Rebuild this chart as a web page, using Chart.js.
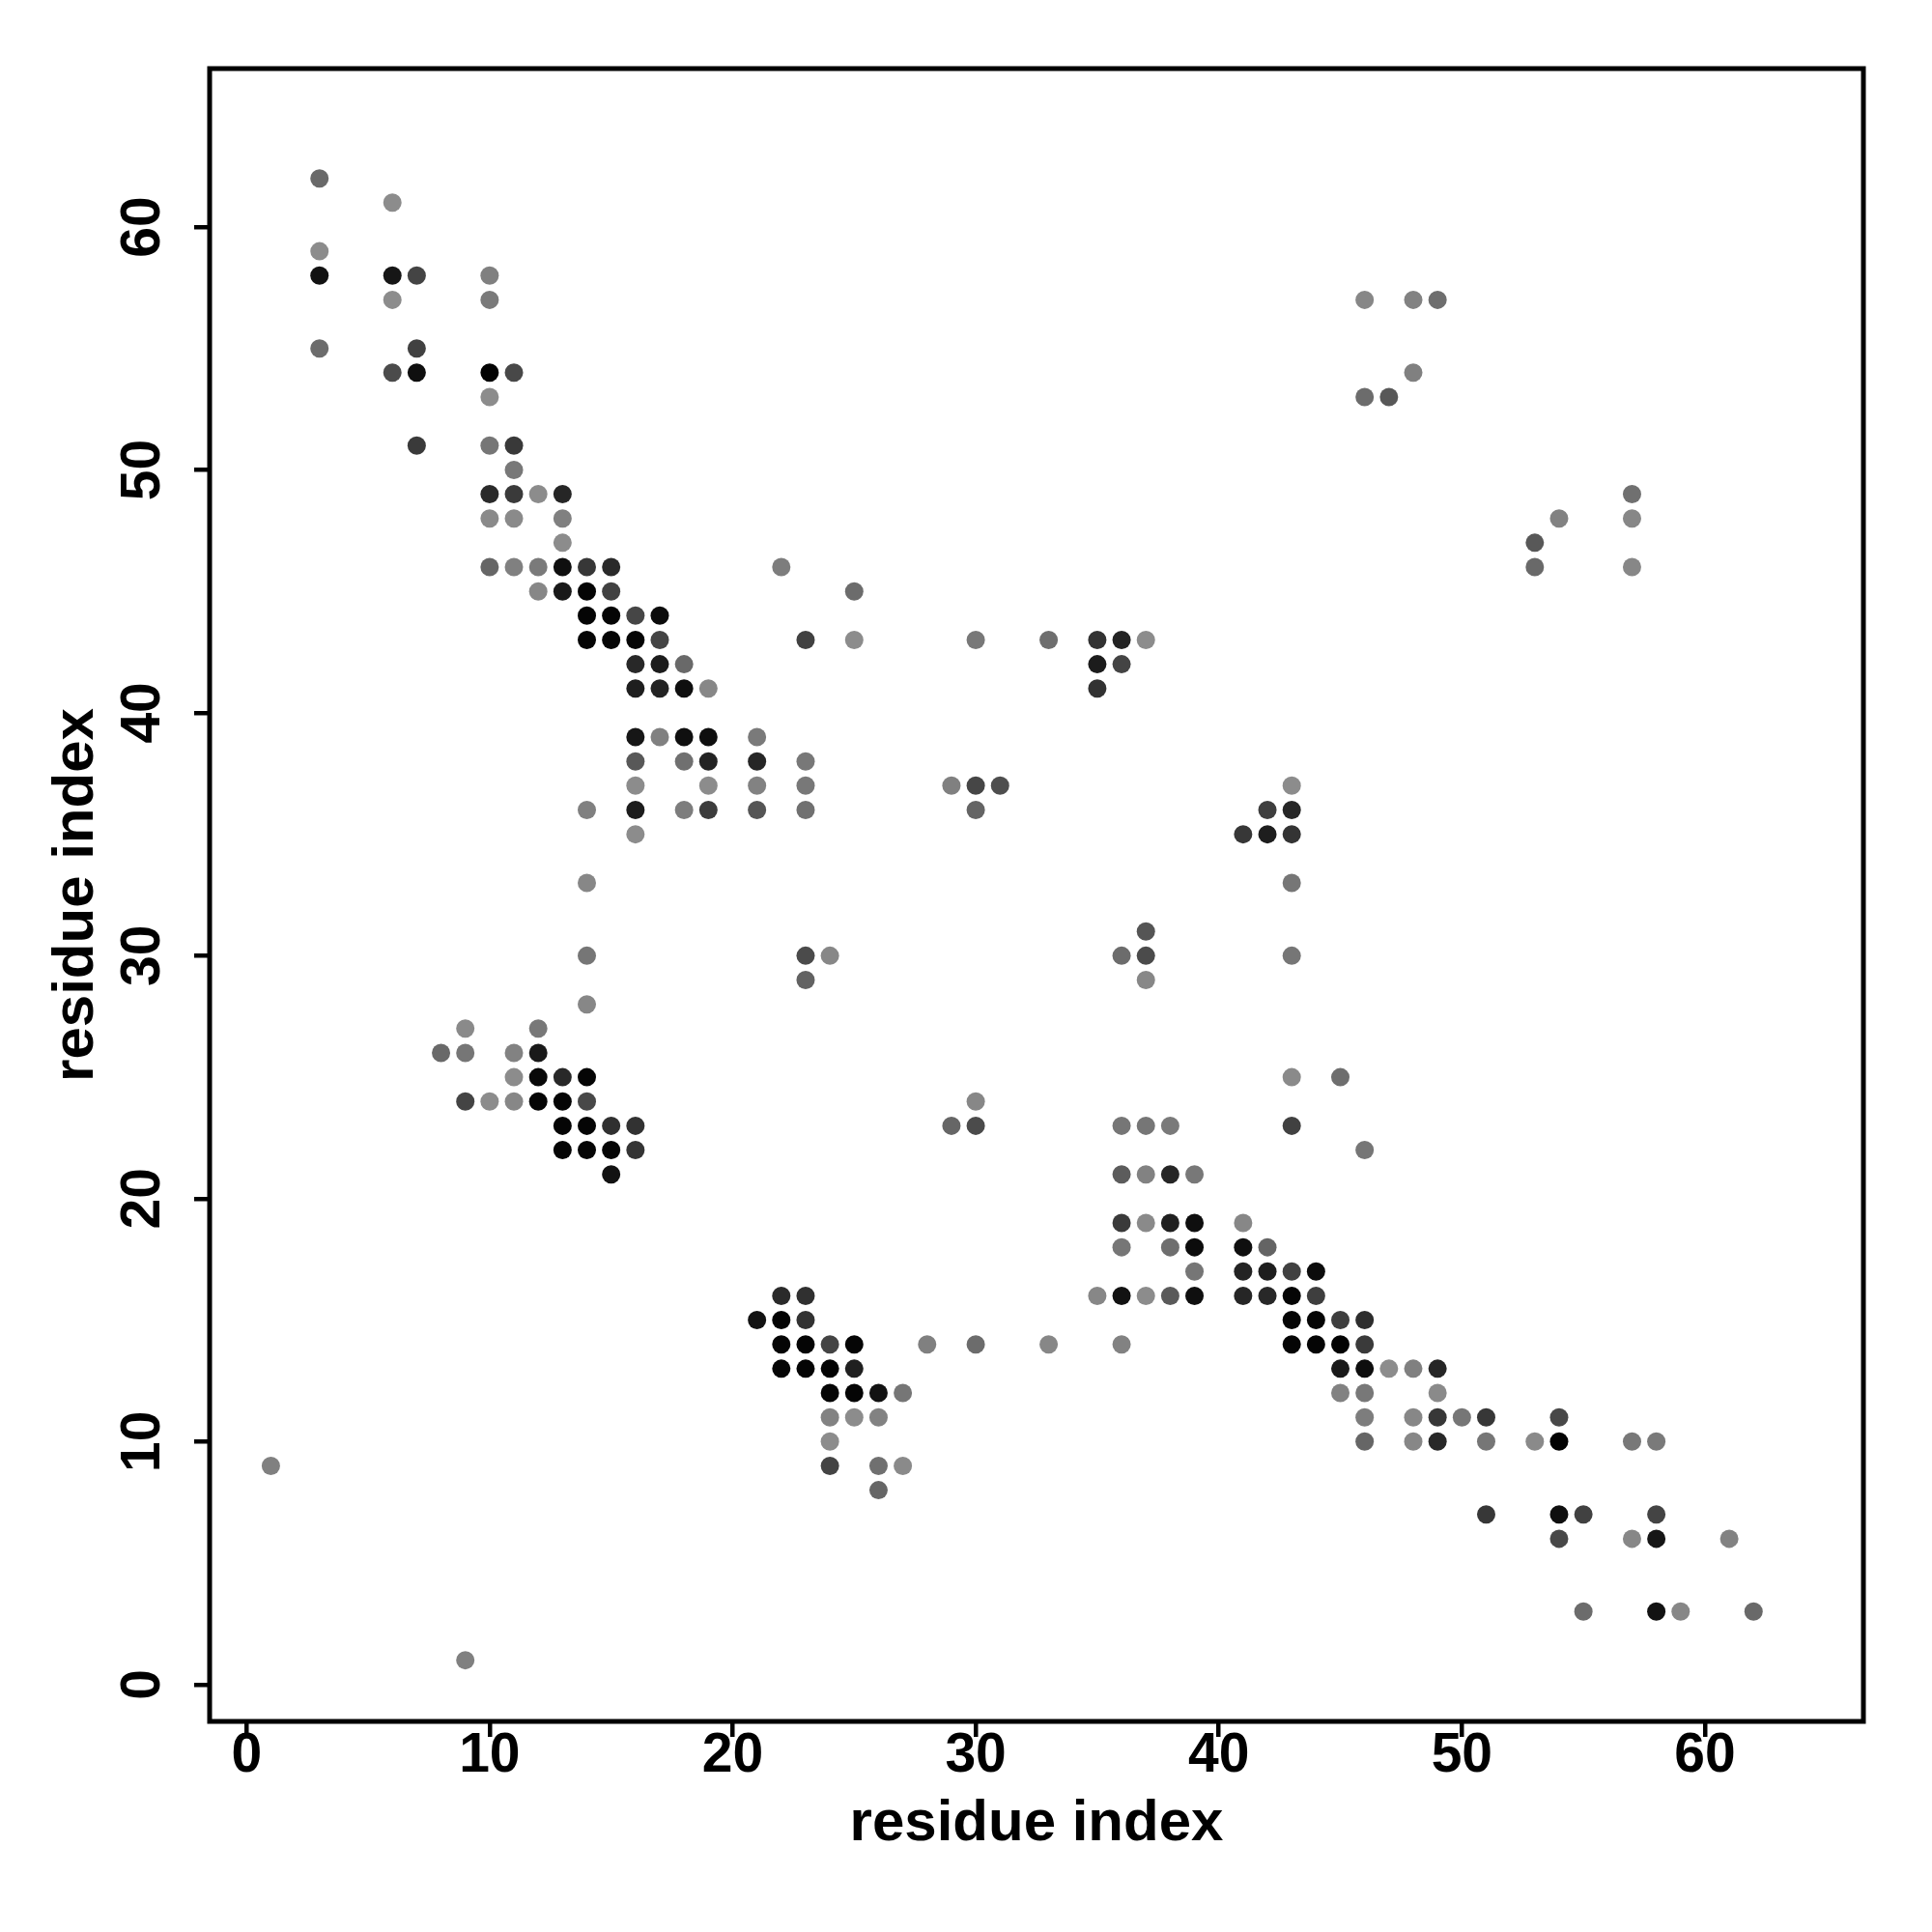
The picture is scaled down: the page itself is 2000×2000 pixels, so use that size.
<!DOCTYPE html>
<html>
<head>
<meta charset="utf-8">
<title>residue contact map</title>
<script src="https://cdn.jsdelivr.net/npm/chart.js@4.4.1/dist/chart.umd.min.js"></script>
<style>
    html, body { margin: 0; padding: 0; background: #fff; }
    #wrap { width: 2000px; height: 2000px; }
</style>
</head>
<body>
<div id="wrap"><canvas id="contactMap" width="2000" height="2000"></canvas></div>
<script>
// contacts, one line per row (residue j)
const resX = [
    3,
    6,
    3,
    3, 6, 7, 10,
    6, 10, 46, 48, 49,
    3, 7,
    6, 7, 10, 11, 48,
    10, 46, 47,
    7, 10, 11,
    11,
    10, 11, 12, 13, 57,
    10, 11, 13, 54, 57,
    13, 53,
    10, 11, 12, 13, 14, 15, 22, 53, 57,
    12, 13, 14, 15, 25,
    14, 15, 16, 17,
    14, 15, 16, 17, 23, 25, 30, 33, 35, 36, 37,
    16, 17, 18, 35, 36,
    16, 17, 18, 19, 35,
    16, 17, 18, 19, 21,
    16, 18, 19, 21, 23,
    16, 19, 21, 23, 29, 30, 31, 43,
    14, 16, 18, 19, 21, 23, 30, 42, 43,
    16, 41, 42, 43,
    14, 43,
    37,
    14, 23, 24, 36, 37, 43,
    23, 37,
    14,
    9, 12,
    8, 9, 11, 12,
    11, 12, 13, 14, 43, 45,
    9, 10, 11, 12, 13, 14, 30,
    13, 14, 15, 16, 29, 30, 36, 37, 38, 43,
    13, 14, 15, 16, 46,
    15, 36, 37, 38, 39,
    36, 37, 38, 39, 41,
    36, 38, 39, 41, 42,
    39, 41, 42, 43, 44,
    22, 23, 35, 36, 37, 38, 39, 41, 42, 43, 44,
    21, 22, 23, 43, 44, 45, 46,
    22, 23, 24, 25, 28, 30, 33, 36, 43, 44, 45, 46,
    22, 23, 24, 25, 45, 46, 47, 48, 49,
    24, 25, 26, 27, 45, 46, 49,
    24, 25, 26, 46, 48, 49, 50, 51, 54,
    24, 46, 48, 49, 51, 53, 54, 57, 58,
    1, 24, 26, 27,
    26,
    51, 54, 55, 58,
    54, 57, 58, 61,
    55, 58, 59, 62,
    9
];

const resY = [
    62,
    61,
    59,
    58, 58, 58, 58,
    57, 57, 57, 57, 57,
    55, 55,
    54, 54, 54, 54, 54,
    53, 53, 53,
    51, 51, 51,
    50,
    49, 49, 49, 49, 49,
    48, 48, 48, 48, 48,
    47, 47,
    46, 46, 46, 46, 46, 46, 46, 46, 46,
    45, 45, 45, 45, 45,
    44, 44, 44, 44,
    43, 43, 43, 43, 43, 43, 43, 43, 43, 43, 43,
    42, 42, 42, 42, 42,
    41, 41, 41, 41, 41,
    39, 39, 39, 39, 39,
    38, 38, 38, 38, 38,
    37, 37, 37, 37, 37, 37, 37, 37,
    36, 36, 36, 36, 36, 36, 36, 36, 36,
    35, 35, 35, 35,
    33, 33,
    31,
    30, 30, 30, 30, 30, 30,
    29, 29,
    28,
    27, 27,
    26, 26, 26, 26,
    25, 25, 25, 25, 25, 25,
    24, 24, 24, 24, 24, 24, 24,
    23, 23, 23, 23, 23, 23, 23, 23, 23, 23,
    22, 22, 22, 22, 22,
    21, 21, 21, 21, 21,
    19, 19, 19, 19, 19,
    18, 18, 18, 18, 18,
    17, 17, 17, 17, 17,
    16, 16, 16, 16, 16, 16, 16, 16, 16, 16, 16,
    15, 15, 15, 15, 15, 15, 15,
    14, 14, 14, 14, 14, 14, 14, 14, 14, 14, 14, 14,
    13, 13, 13, 13, 13, 13, 13, 13, 13,
    12, 12, 12, 12, 12, 12, 12,
    11, 11, 11, 11, 11, 11, 11, 11, 11,
    10, 10, 10, 10, 10, 10, 10, 10, 10,
    9, 9, 9, 9,
    8,
    7, 7, 7, 7,
    6, 6, 6, 6,
    3, 3, 3, 3,
    1
];

// grey level of each dot (0 = black, 140 = lightest grey)
const shade = [
    105,
    140,
    140,
    18, 22, 68, 128,
    140, 122, 135, 130, 110,
    108, 65,
    75, 15, 3, 72, 128,
    140, 108, 88,
    58, 118, 57,
    120,
    42, 58, 140, 38, 112,
    138, 138, 128, 130, 135,
    140, 88,
    102, 128, 122, 15, 55, 42, 125, 105, 135,
    135, 25, 5, 65, 108,
    5, 5, 70, 12,
    5, 5, 5, 68, 65, 140, 120, 110, 50, 35, 140,
    40, 28, 105, 28, 68,
    30, 35, 15, 135, 50,
    22, 128, 15, 15, 122,
    88, 112, 35, 38, 120,
    140, 140, 130, 120, 128, 70, 78, 140,
    128, 28, 125, 60, 85, 112, 100, 62, 38,
    140, 55, 30, 52,
    135, 118,
    85,
    118, 75, 135, 108, 75, 118,
    98, 135,
    135,
    138, 120,
    105, 118, 130, 25,
    140, 8, 40, 5, 138, 110,
    68, 140, 135, 5, 5, 72, 135,
    5, 5, 48, 50, 102, 75, 118, 118, 122, 65,
    5, 5, 5, 52, 118,
    18, 92, 130, 38, 120,
    58, 138, 32, 15, 135,
    118, 110, 12, 15, 100,
    118, 35, 30, 65, 12,
    42, 48, 135, 18, 140, 90, 15, 38, 40, 5, 62,
    18, 3, 50, 5, 5, 62, 45,
    5, 5, 68, 5, 128, 108, 135, 130, 5, 5, 3, 58,
    5, 5, 3, 32, 25, 14, 140, 128, 38,
    5, 5, 18, 118, 130, 120, 138,
    130, 140, 130, 125, 135, 55, 118, 55, 72,
    140, 102, 135, 40, 118, 138, 3, 120, 122,
    128, 68, 112, 138,
    102,
    55, 15, 65, 68,
    72, 135, 22, 130,
    108, 18, 135, 105,
    128
];

const xTicks = [0, 10, 20, 30, 40, 50, 60];
const yTicks = [0, 10, 20, 30, 40, 50, 60];

const AXIS_MIN = -1.52;
const AXIS_MAX = 66.52;
const FONT = '"Liberation Sans", Arial, Helvetica, sans-serif';

const points = resX.map((x, i) => ({ x: x, y: resY[i] }));
const colors = shade.map(g => 'rgb(' + g + ',' + g + ',' + g + ')');

// frame round the plot + y tick labels turned parallel to the axis (R style)
const frameAndLabels = {
    id: 'frameAndLabels',
    afterDraw(chart) {
        const ctx = chart.ctx;
        const area = chart.chartArea;
        const ys = chart.scales.y;

        ctx.save();
        ctx.strokeStyle = '#000';
        ctx.lineWidth = 5;
        ctx.strokeRect(area.left, area.top, area.right - area.left, area.bottom - area.top);

        ctx.fillStyle = '#000';
        ctx.font = 'bold 57px ' + FONT;
        ctx.textAlign = 'center';
        ctx.textBaseline = 'middle';
        yTicks.forEach(v => {
            const py = ys.getPixelForValue(v);
            ctx.save();
            ctx.translate(149, py);
            ctx.rotate(-Math.PI / 2);
            ctx.fillText(String(v), 0, 0);
            ctx.restore();
        });
        ctx.restore();
    }
};

const tickGrid = {
    display: true,
    drawOnChartArea: false,
    drawTicks: true,
    tickLength: 16,
    color: '#000',
    lineWidth: 4.5
};

new Chart(document.getElementById('contactMap'), {
    type: 'scatter',
    data: {
        datasets: [{
            label: 'contacts',
            data: points,
            pointRadius: 9.5,
            pointHoverRadius: 9.5,
            pointBorderWidth: 0,
            pointBackgroundColor: colors,
            pointBorderColor: colors
        }]
    },
    options: {
        responsive: false,
        animation: false,
        devicePixelRatio: 1,
        layout: {
            padding: { left: 0, right: 71, top: 71, bottom: 0 }
        },
        plugins: {
            legend: { display: false },
            tooltip: { enabled: false }
        },
        scales: {
            x: {
                type: 'linear',
                position: 'bottom',
                min: AXIS_MIN,
                max: AXIS_MAX,
                afterBuildTicks: s => { s.ticks = xTicks.map(v => ({ value: v })); },
                afterFit: s => { s.height = 218; },
                grid: tickGrid,
                border: { display: false },
                ticks: {
                    color: '#000',
                    font: { family: FONT, size: 57, weight: 'bold', lineHeight: 1 },
                    padding: -8,
                    maxRotation: 0,
                    autoSkip: false
                },
                title: {
                    display: true,
                    text: 'residue index',
                    color: '#000',
                    font: { family: FONT, size: 60, weight: 'bold', lineHeight: 1.2 },
                    padding: { top: 0, bottom: 76 }
                }
            },
            y: {
                type: 'linear',
                position: 'left',
                min: AXIS_MIN,
                max: AXIS_MAX,
                afterBuildTicks: s => { s.ticks = yTicks.map(v => ({ value: v })); },
                afterFit: s => { s.width = 217; },
                grid: tickGrid,
                border: { display: false },
                ticks: { display: false },
                title: {
                    display: true,
                    text: 'residue index',
                    color: '#000',
                    font: { family: FONT, size: 60, weight: 'bold', lineHeight: 1.2 },
                    padding: { top: 43, bottom: 0 }
                }
            }
        }
    },
    plugins: [frameAndLabels]
});
</script>
</body>
</html>
